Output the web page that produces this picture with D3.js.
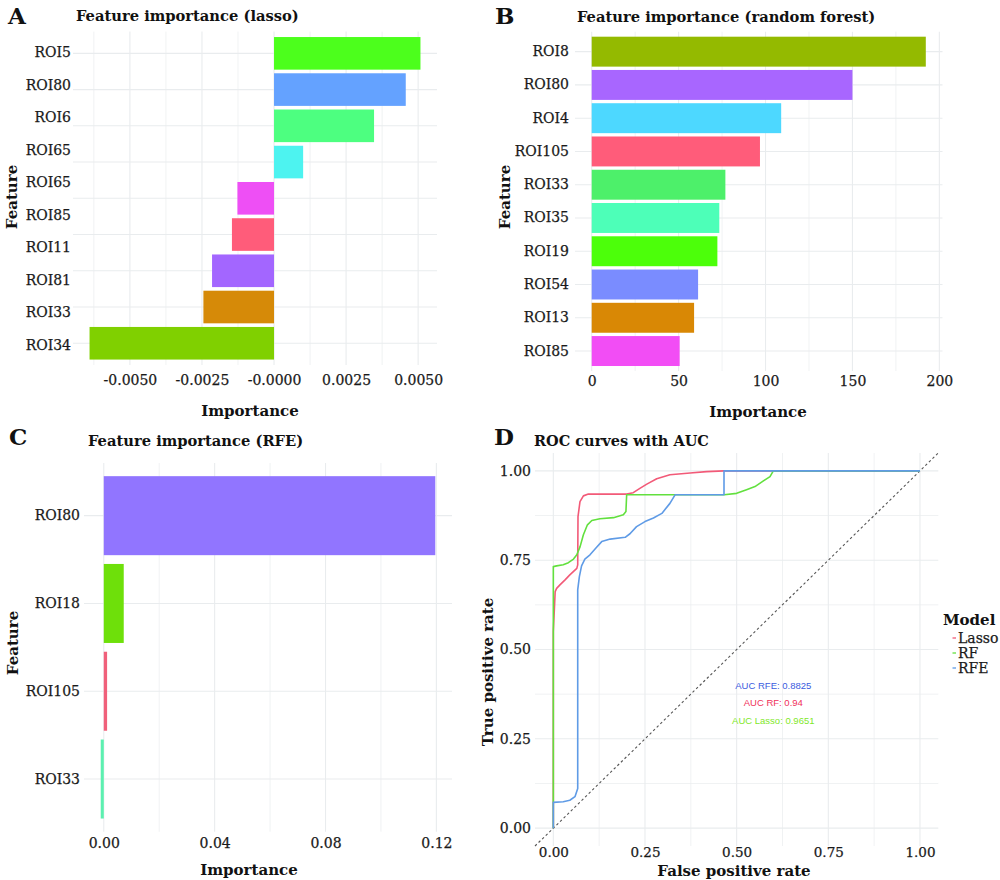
<!DOCTYPE html>
<html><head><meta charset="utf-8">
<script src="https://cdn.jsdelivr.net/npm/d3@7"></script>
<style>
body{margin:0;background:#fff}
svg text{font-family:"DejaVu Serif",serif}
</style>
</head><body>
<svg id="chart" width="1000" height="880"></svg>
<script>
// ---------- DATA ----------
// Panel A: lasso
const lassoFeatures = ["ROI5","ROI80","ROI6","ROI65","ROI85","ROI11","ROI81","ROI33","ROI34"];
const lassoTickLabels = ["ROI5","ROI80","ROI6","ROI65","ROI65","ROI85","ROI11","ROI81","ROI33","ROI34"];
const lassoImportance = [0.00508,0.00457,0.00347,0.00101,-0.00127,-0.00146,-0.00215,-0.00245,-0.0064];
const lassoColors = ["#4cff1c","#64a2ff","#4dff80","#4df3f0","#ee4ff5","#ff5c7a","#a366ff","#d68a08","#80d000"];
const lassoMajorTicks = [-0.005,-0.0025,0,0.0025,0.005];
const lassoTickText = ["-0.0050","-0.0025","-0.0000","0.0025","0.0050"];
const lassoMinorTicks = [-0.00625,-0.00375,-0.00125,0.00125,0.00375];

// Panel B: random forest
const rfFeatures = ["ROI8","ROI80","ROI4","ROI105","ROI33","ROI35","ROI19","ROI54","ROI13","ROI85"];
const rfImportance = [192.2,150.0,109.0,96.8,76.9,73.4,72.3,61.2,58.9,50.6];
const rfColors = ["#94ba00","#a866ff","#4dd8ff","#ff5c7a","#4df06a","#4dffb8","#4cff0a","#7a8cff","#d98805","#f24df5"];
const rfMajorTicks = [0,50,100,150,200];
const rfTickText = ["0","50","100","150","200"];
const rfMinorTicks = [25,75,125,175];

// Panel C: RFE
const rfeFeatures = ["ROI80","ROI18","ROI105","ROI33"];
const rfeImportance = [0.1196,0.0072,0.0012,-0.0011];
const rfeColors = ["#9175ff","#6ee00a","#f0607a","#5cf0b0"];
const rfeMajorTicks = [0,0.04,0.08,0.12];
const rfeTickText = ["0.00","0.04","0.08","0.12"];
const rfeMinorTicks = [0.02,0.06,0.10];

// Panel D: ROC curves
const rocModels = ["Lasso","RF","RFE"];
const rocColors = ["#f25a78","#62e03e","#5f9be6"];
const lassoFpr = [0,0,0.005,0.009,0.018,0.032,0.045,0.064,0.0665,0.0673,0.0727,0.082,0.0955,0.2,0.218,0.236,0.255,0.282,0.318,0.373,0.418,0.466,1];
const lassoTpr = [0,0.55,0.662,0.671,0.681,0.695,0.709,0.727,0.737,0.872,0.914,0.930,0.935,0.935,0.939,0.951,0.963,0.978,0.989,0.994,0.998,1.0,1.0];
const rfFpr = [0,0,0.009,0.027,0.041,0.055,0.064,0.073,0.082,0.093,0.105,0.127,0.164,0.191,0.198,0.2,0.466,0.5,0.527,0.55,0.573,0.591,0.6,1];
const rfTpr = [0,0.732,0.734,0.737,0.743,0.753,0.765,0.788,0.821,0.849,0.861,0.866,0.869,0.877,0.886,0.933,0.933,0.937,0.947,0.956,0.972,0.984,1.0,1.0];
const rfeFpr = [0,0,0.027,0.045,0.059,0.0665,0.0665,0.071,0.077,0.086,0.1,0.118,0.132,0.155,0.196,0.209,0.227,0.25,0.273,0.296,0.318,0.332,0.4655,0.4655,1];
const rfeTpr = [0,0.072,0.074,0.078,0.088,0.111,0.667,0.704,0.734,0.753,0.765,0.786,0.802,0.809,0.814,0.824,0.844,0.858,0.868,0.881,0.909,0.933,0.933,1.0,1.0];
const rocTicks = [0,0.25,0.5,0.75,1];
const rocTickText = ["0.00","0.25","0.50","0.75","1.00"];
const rocMinor = [0.125,0.375,0.625,0.875];
const aucLabels = ["AUC RFE: 0.8825","AUC RF: 0.94","AUC Lasso: 0.9651"];
const aucColors = ["#3b5ce0","#f0305a","#7fe82a"];
const aucX = [0.6,0.6,0.6];
const aucY = [0.40,0.35,0.30];

// ---------- DRAWING ----------
const svg = d3.select("#chart");
const gridCol = "#e9ecee";
const textCol = "#1a1a1a";

function styleTick(sel, size){
  sel.style("font-family","DejaVu Serif").style("font-size",(size||14)+"px")
     .style("fill",textCol).style("stroke",textCol).style("stroke-width","0.25px");
}

function expand(ext, f){ const r = ext[1]-ext[0]; return [ext[0]-r*f, ext[1]+r*f]; }

function barPanel(o){
  const g = svg.append("g");
  const x = d3.scaleLinear().domain(expand(d3.extent([0,...o.values]),0.05)).range([o.x0,o.x1]);
  const y = d3.scaleBand().domain(o.features.map((d,i)=>i)).range([o.y0,o.y1]).paddingInner(0.1).paddingOuter(0.15);
  // grid
  g.selectAll(".vmin").data(o.minor).join("line")
    .attr("x1",d=>x(d)).attr("x2",d=>x(d)).attr("y1",o.y0).attr("y2",o.y1)
    .attr("stroke",gridCol).attr("stroke-width",0.7);
  g.selectAll(".vmaj").data(o.major).join("line")
    .attr("x1",d=>x(d)).attr("x2",d=>x(d)).attr("y1",o.y0).attr("y2",o.y1)
    .attr("stroke",gridCol).attr("stroke-width",1.1);
  g.selectAll(".hg").data(o.features.map((d,i)=>i)).join("line")
    .attr("x1",o.x0).attr("x2",o.x1).attr("y1",d=>y(d)+y.bandwidth()/2).attr("y2",d=>y(d)+y.bandwidth()/2)
    .attr("stroke",gridCol).attr("stroke-width",1.1);
  // bars
  g.selectAll(".bar").data(o.values).join("rect")
    .attr("x",d=>x(Math.min(0,d))).attr("width",d=>Math.abs(x(d)-x(0)))
    .attr("y",(d,i)=>y(i)).attr("height",y.bandwidth())
    .attr("fill",(d,i)=>o.colors[i]);
  // x axis
  const ax = g.append("g").attr("transform",`translate(0,${o.y1})`)
    .call(d3.axisBottom(x).tickValues(o.major).tickFormat((d,i)=>o.tickText[i]).tickSize(0).tickPadding(o.xPad));
  ax.select(".domain").remove();
  styleTick(ax.selectAll("text"));
  // y labels
  if(o.tickLabels){
    const yp = d3.scalePoint().domain(o.tickLabels.map((d,i)=>i)).range(o.labelRange);
    styleTick(g.selectAll(".yl").data(o.tickLabels).join("text")
      .attr("x",o.x0-2).attr("y",(d,i)=>yp(i)).attr("dy","0.35em")
      .attr("text-anchor","end").text(d=>d));
  } else {
    const ay = g.append("g").attr("transform",`translate(${o.x0},0)`)
      .call(d3.axisLeft(y).tickFormat(i=>o.features[i]).tickSize(0).tickPadding(o.yPad));
    ay.select(".domain").remove();
    styleTick(ay.selectAll("text"));
  }
  // titles
  g.append("text").attr("x",o.letterX).attr("y",o.letterY).style("font-size","23px").style("font-weight","bold").style("fill","#111").text(o.letter);
  g.append("text").attr("x",o.titleX).attr("y",o.titleY).style("font-size","14.7px").style("font-weight","bold").style("fill","#111").text(o.title);
  g.append("text").attr("x",o.xTitleX).attr("y",o.xTitleY).attr("text-anchor","middle")
    .style("font-size","15px").style("font-weight","bold").style("fill","#111").text("Importance");
  g.append("text").attr("transform",`translate(${o.yTitleX},${o.yTitleY}) rotate(-90)`).attr("dy","0.35em")
    .attr("text-anchor","middle").style("font-size","15px").style("font-weight","bold").style("fill","#111").text("Feature");
}

barPanel({features:lassoFeatures, values:lassoImportance, colors:lassoColors, major:lassoMajorTicks,
  tickText:lassoTickText, minor:lassoMinorTicks, x0:73, x1:437, y0:31.6, y1:365, xPad:10, yPad:4,
  tickLabels:lassoTickLabels, labelRange:[52.3,345],
  letter:"A", letterX:8, letterY:24, title:"Feature importance (lasso)", titleX:76, titleY:21,
  xTitleX:250, xTitleY:416, yTitleX:12, yTitleY:197});

barPanel({features:rfFeatures, values:rfImportance, colors:rfColors, major:rfMajorTicks,
  tickText:rfTickText, minor:rfMinorTicks, x0:575, x1:942.5, y0:31.7, y1:371, xPad:5, yPad:6,
  letter:"B", letterX:495, letterY:24, title:"Feature importance (random forest)", titleX:577, titleY:22,
  xTitleX:758, xTitleY:417, yTitleX:505, yTitleY:197});

barPanel({features:rfeFeatures, values:rfeImportance, colors:rfeColors, major:rfeMajorTicks,
  tickText:rfeTickText, minor:rfeMinorTicks, x0:84, x1:452, y0:463, y1:831.7, xPad:6, yPad:4,
  letter:"C", letterX:9, letterY:445, title:"Feature importance (RFE)", titleX:88, titleY:446,
  xTitleX:249, xTitleY:875, yTitleX:13, yTitleY:643});

// Panel D
(function(){
  const g = svg.append("g");
  const X0=535, X1=938.3, Y0=453, Y1=846;
  const x = d3.scaleLinear().domain([-0.05,1.05]).range([X0,X1]);
  const y = d3.scaleLinear().domain([-0.05,1.05]).range([Y1,Y0]);
  g.selectAll(".vm").data(rocMinor).join("line").attr("x1",d=>x(d)).attr("x2",d=>x(d)).attr("y1",Y0).attr("y2",Y1)
    .attr("stroke",gridCol).attr("stroke-width",0.7);
  g.selectAll(".hm").data(rocMinor).join("line").attr("y1",d=>y(d)).attr("y2",d=>y(d)).attr("x1",X0).attr("x2",X1)
    .attr("stroke",gridCol).attr("stroke-width",0.7);
  g.selectAll(".vM").data(rocTicks).join("line").attr("x1",d=>x(d)).attr("x2",d=>x(d)).attr("y1",Y0).attr("y2",Y1)
    .attr("stroke",gridCol).attr("stroke-width",1.1);
  g.selectAll(".hM").data(rocTicks).join("line").attr("y1",d=>y(d)).attr("y2",d=>y(d)).attr("x1",X0).attr("x2",X1)
    .attr("stroke",gridCol).attr("stroke-width",1.1);
  // diagonal
  g.append("line").attr("x1",x(-0.05)).attr("y1",y(-0.05)).attr("x2",x(1.05)).attr("y2",y(1.05))
    .attr("stroke","#555").attr("stroke-width",1.1).attr("stroke-dasharray","2.5,2.5");
  const series = [[lassoFpr,lassoTpr],[rfFpr,rfTpr],[rfeFpr,rfeTpr]];
  const line = d3.line().x(d=>x(d[0])).y(d=>y(d[1]));
  series.forEach((s,k)=>{
    g.append("path").datum(s[0].map((v,i)=>[v,s[1][i]])).attr("d",line)
      .attr("fill","none").attr("stroke",rocColors[k]).attr("stroke-width",1.6).attr("stroke-linejoin","round");
  });
  // AUC labels
  g.selectAll(".auc").data(aucLabels).join("text")
    .attr("x",(d,i)=>x(aucX[i])).attr("y",(d,i)=>y(aucY[i])).attr("dy","0.35em").attr("text-anchor","middle")
    .style("font-family","Liberation Sans, Arial, sans-serif").style("font-size","9.5px")
    .style("fill",(d,i)=>aucColors[i]).text(d=>d);
  // axes
  const ax = g.append("g").attr("transform",`translate(0,${Y1})`)
    .call(d3.axisBottom(x).tickValues(rocTicks).tickFormat((d,i)=>rocTickText[i]).tickSize(0).tickPadding(1));
  ax.select(".domain").remove();
  styleTick(ax.selectAll("text"), 13.5);
  const ay = g.append("g").attr("transform",`translate(${X0},0)`)
    .call(d3.axisLeft(y).tickValues(rocTicks).tickFormat((d,i)=>rocTickText[i]).tickSize(0).tickPadding(4));
  ay.select(".domain").remove();
  styleTick(ay.selectAll("text"));
  // titles
  g.append("text").attr("x",494).attr("y",445).style("font-size","23px").style("font-weight","bold").style("fill","#111").text("D");
  g.append("text").attr("x",534).attr("y",446).style("font-size","14.5px").style("font-weight","bold").style("fill","#111").text("ROC curves with AUC");
  g.append("text").attr("x",734).attr("y",875.5).attr("text-anchor","middle").style("font-size","15px").style("font-weight","bold").style("fill","#111").text("False positive rate");
  g.append("text").attr("transform","translate(488,672) rotate(-90)").attr("dy","0.35em").attr("text-anchor","middle")
    .style("font-size","15px").style("font-weight","bold").style("fill","#111").text("True positive rate");
  // legend
  g.append("text").attr("x",943).attr("y",625).style("font-size","15px").style("font-weight","bold").style("fill","#111").text("Model");
  const lg = g.selectAll(".lg").data(rocModels).join("g").attr("transform",(d,i)=>`translate(0,${638+i*15})`);
  lg.append("line").attr("x1",952.5).attr("x2",956).attr("y1",0).attr("y2",0).attr("stroke",(d,i)=>rocColors[i]).attr("stroke-width",1.3);
  styleTick(lg.append("text").attr("x",958).attr("y",0).attr("dy","0.35em").text(d=>d));
})();
</script>
</body></html>
